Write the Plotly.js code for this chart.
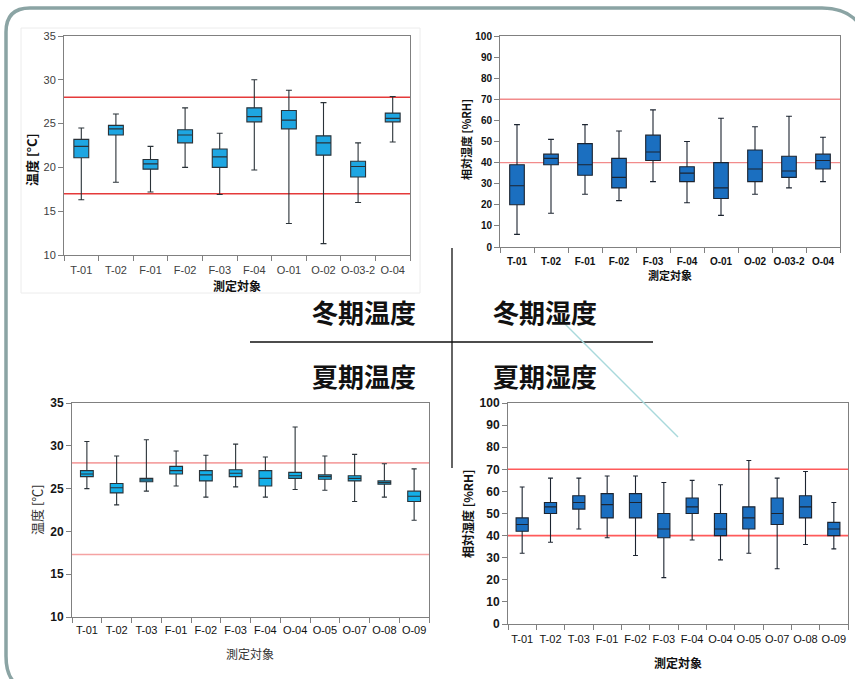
<!DOCTYPE html>
<html>
<head>
<meta charset="utf-8">
<script src="https://cdn.plot.ly/plotly-3.0.1.min.js"></script>
<style>
  html, body { margin: 0; padding: 0; background: #fff; }
  #chart { width: 855px; height: 679px; }
</style>
</head>
<body>
<div id="chart"></div>
<script>
// ---- measurement sites ----
const winterSites = ['T-01', 'T-02', 'F-01', 'F-02', 'F-03', 'F-04', 'O-01', 'O-02', 'O-03-2', 'O-04'];
const summerSites = ['T-01', 'T-02', 'T-03', 'F-01', 'F-02', 'F-03', 'F-04', 'O-04', 'O-05', 'O-07', 'O-08', 'O-09'];

// ---- winter temperature [°C] ----
const winterTempMin = [16.3, 18.3, 17.2, 20.0, 16.9, 19.7, 13.6, 11.3, 16.0, 22.9];
const winterTempQ1  = [21.1, 23.7, 19.8, 22.8, 20.0, 25.2, 24.4, 21.4, 18.9, 25.2];
const winterTempMed = [22.4, 24.4, 20.4, 23.7, 21.2, 25.8, 25.4, 22.8, 20.1, 25.6];
const winterTempQ3  = [23.2, 24.8, 20.9, 24.3, 22.1, 26.8, 26.5, 23.6, 20.7, 26.2];
const winterTempMax = [24.5, 26.1, 22.4, 26.8, 23.9, 30.0, 28.8, 27.4, 22.8, 28.1];

// ---- winter relative humidity [%RH] ----
const winterHumMin = [6, 16, 25, 22, 31, 21, 15, 25, 28, 31];
const winterHumQ1  = [20, 39, 34, 28, 41, 31, 23, 31, 33, 37];
const winterHumMed = [29, 42, 39, 33, 45, 35, 28, 37, 36, 41];
const winterHumQ3  = [39, 44, 49, 42, 53, 38, 40, 46, 43, 44];
const winterHumMax = [58, 51, 58, 55, 65, 50, 61, 57, 62, 52];

// ---- summer temperature [°C] ----
const summerTempMin = [25.0, 23.1, 24.7, 25.3, 24.0, 25.2, 24.0, 24.9, 24.8, 23.5, 24.0, 21.3];
const summerTempQ1  = [26.4, 24.5, 25.8, 26.7, 25.9, 26.4, 25.3, 26.2, 26.1, 25.9, 25.5, 23.5];
const summerTempMed = [26.7, 25.1, 26.0, 27.1, 26.6, 26.8, 26.2, 26.5, 26.4, 26.2, 25.7, 24.1];
const summerTempQ3  = [27.1, 25.6, 26.2, 27.6, 27.1, 27.2, 27.1, 26.9, 26.6, 26.5, 25.9, 24.7];
const summerTempMax = [30.5, 28.8, 30.7, 29.4, 28.9, 30.2, 28.7, 32.2, 28.8, 29.0, 27.9, 27.3];

// ---- summer relative humidity [%RH] ----
const summerHumMin = [32, 37, 43, 39, 31, 21, 38, 29, 32, 25, 36, 34];
const summerHumQ1  = [42, 50, 52, 48, 48, 39, 50, 40, 43, 45, 48, 40];
const summerHumMed = [45, 53, 55, 54, 55, 43, 53, 43, 48, 50, 53, 43];
const summerHumQ3  = [48, 55, 58, 59, 59, 50, 57, 50, 53, 57, 58, 46];
const summerHumMax = [62, 66, 66, 67, 67, 64, 65, 63, 74, 66, 69, 55];

// ---- reference limit lines ----
const winterTempLimits = [17, 28];
const winterHumLimits  = [40, 70];
const summerTempLimits = [17.3, 28];
const summerHumLimits  = [40, 70];

// ---- page geometry helpers (pixels -> paper fractions) ----
const W = 855, H = 679;
const px = x => x / W;
const py = y => 1 - y / H;
const pt = (x, y) => px(x).toFixed(5) + ',' + py(y).toFixed(5);

const CJK = '"Noto Sans CJK JP", "Noto Sans CJK SC", sans-serif';
const LAT = '"Liberation Sans", Arial, sans-serif';

function boxTrace(sites, lo, q1, med, q3, hi, xa, ya, fill, whisker) {
  return {
    type: 'box', x: sites, lowerfence: lo, q1: q1, median: med, q3: q3, upperfence: hi,
    xaxis: xa, yaxis: ya, boxpoints: false, showlegend: false,
    fillcolor: fill, line: { color: whisker, width: 1.1 },
    width: 0.43, whiskerwidth: 0.4, hoverinfo: 'skip'
  };
}

const data = [
  boxTrace(winterSites, winterTempMin, winterTempQ1, winterTempMed, winterTempQ3, winterTempMax, 'x', 'y', '#1ea6e2', '#2a3238'),
  boxTrace(winterSites, winterHumMin, winterHumQ1, winterHumMed, winterHumQ3, winterHumMax, 'x2', 'y2', '#1b6fc0', '#1c2430'),
  boxTrace(summerSites, summerTempMin, summerTempQ1, summerTempMed, summerTempQ3, summerTempMax, 'x3', 'y3', '#14afe8', '#2a3238'),
  boxTrace(summerSites, summerHumMin, summerHumQ1, summerHumMed, summerHumQ3, summerHumMax, 'x4', 'y4', '#1b6fc0', '#1c2430')
];

function xAxis(domain, anchor, n, font, standoff) {
  return {
    domain: domain, anchor: anchor, type: 'category', range: [-0.5, n - 0.5],
    showline: true, linecolor: '#808080', linewidth: 1, mirror: true,
    ticks: 'outside', tickson: 'boundaries', ticklen: 5, tickcolor: '#808080',
    ticklabelstandoff: standoff,
    tickangle: 0, showgrid: false, zeroline: false, tickfont: font, fixedrange: true
  };
}
function yAxis(domain, anchor, range, dtick, font) {
  return {
    domain: domain, anchor: anchor, range: range, dtick: dtick,
    showline: true, linecolor: '#808080', linewidth: 1, mirror: true,
    ticks: 'outside', ticklen: 5, tickcolor: '#808080',
    showgrid: false, zeroline: false, tickfont: font, fixedrange: true
  };
}

const f1 = { family: LAT, size: 11, color: '#404040' };
const f2 = { family: LAT, size: 10, color: '#111', weight: 'bold' };
const f3x = { family: LAT, size: 11, color: '#111' };
const f3y = { family: LAT, size: 12, color: '#151515', weight: 'bold' };
const f4x = { family: LAT, size: 11, color: '#111' };
const f4y = { family: LAT, size: 12, color: '#151515', weight: 'bold' };

function limitLines(values, xa, ya, color, width) {
  return values.map(v => ({
    type: 'line', xref: xa + ' domain', yref: ya, x0: 0, x1: 1, y0: v, y1: v,
    line: { color: color, width: width }, layer: 'below'
  }));
}

const shapes = [
  // slide frame
  { type: 'path', xref: 'paper', yref: 'paper',
    path: 'M ' + pt(14, 682) + ' Q ' + pt(6, 674) + ' ' + pt(6, 656) +
          ' L ' + pt(6, 32) + ' Q ' + pt(6, 8) + ' ' + pt(30, 8) +
          ' L ' + pt(822, 8) + ' Q ' + pt(850, 8) + ' ' + pt(862, 28),
    line: { color: '#8ba4a4', width: 3.5 } },
  // winter temperature chart area outline
  { type: 'rect', xref: 'paper', yref: 'paper', x0: px(21), x1: px(420), y0: py(293), y1: py(28),
    line: { color: '#ececec', width: 1 }, layer: 'below' },
  // centre cross
  { type: 'line', xref: 'paper', yref: 'paper', x0: px(452), x1: px(452), y0: py(248), y1: py(468),
    line: { color: '#111', width: 1.3 } },
  { type: 'line', xref: 'paper', yref: 'paper', x0: px(250), x1: px(653), y0: py(342), y1: py(342),
    line: { color: '#111', width: 1.3 } },
  // light diagonal connector
  { type: 'line', xref: 'paper', yref: 'paper', x0: px(558), x1: px(678), y0: py(317), y1: py(437),
    line: { color: '#a9d9dc', width: 1.5 } }
]
  .concat(limitLines(winterTempLimits, 'x', 'y', '#e53a3a', 1.4))
  .concat(limitLines(winterHumLimits, 'x2', 'y2', '#f28b8b', 1.4))
  .concat(limitLines(summerTempLimits, 'x3', 'y3', '#f5a3a3', 1.6))
  .concat(limitLines(summerHumLimits, 'x4', 'y4', '#ff5a5a', 1.6));

function label(text, x, y, size, bold, angle, color) {
  return {
    text: text, xref: 'paper', yref: 'paper', x: px(x), y: py(y),
    xanchor: 'center', yanchor: 'middle', showarrow: false, textangle: angle || 0,
    font: { family: CJK, size: size, color: color || '#111', weight: bold ? 'bold' : 'normal' }
  };
}

const annotations = [
  label('冬期温度', 364, 312, 26, true),
  label('冬期湿度', 545, 312, 26, true),
  label('夏期温度', 364, 375, 26, true),
  label('夏期湿度', 545, 375, 26, true),
  label('測定対象', 237, 285, 12, true),
  label('温度 [°C]', 31, 160, 13, true, -90),
  label('測定対象', 670, 275, 11, true),
  label('相対湿度 [%RH]', 466, 140, 11, true, -90),
  label('測定対象', 250, 653, 12, false, 0, '#333'),
  label('温度 [℃]', 36, 510, 13, false, -90, '#333'),
  label('測定対象', 678, 662, 12, true),
  label('相対湿度 [%RH]', 467, 513, 12, true, -90)
];

const layout = {
  width: W, height: H,
  margin: { l: 0, r: 0, t: 0, b: 0 },
  paper_bgcolor: '#fff', plot_bgcolor: 'rgba(0,0,0,0)',
  showlegend: false,
  xaxis:  xAxis([px(64), px(410)], 'y', winterSites.length, f1, 5),
  yaxis:  yAxis([py(255), py(36)], 'x', [10, 35], 5, f1),
  xaxis2: xAxis([px(500), px(840)], 'y2', winterSites.length, f2, 5),
  yaxis2: yAxis([py(247), py(36)], 'x2', [0, 100], 10, f2),
  xaxis3: xAxis([px(72), px(429)], 'y3', summerSites.length, f3x, 3),
  yaxis3: yAxis([py(617), py(403)], 'x3', [10, 35], 5, f3y),
  xaxis4: xAxis([px(508), px(848)], 'y4', summerSites.length, f4x, 5),
  yaxis4: yAxis([py(624), py(403)], 'x4', [0, 100], 10, f4y),
  shapes: shapes,
  annotations: annotations
};

Plotly.newPlot('chart', data, layout, { staticPlot: true, displayModeBar: false });
</script>
</body>
</html>
